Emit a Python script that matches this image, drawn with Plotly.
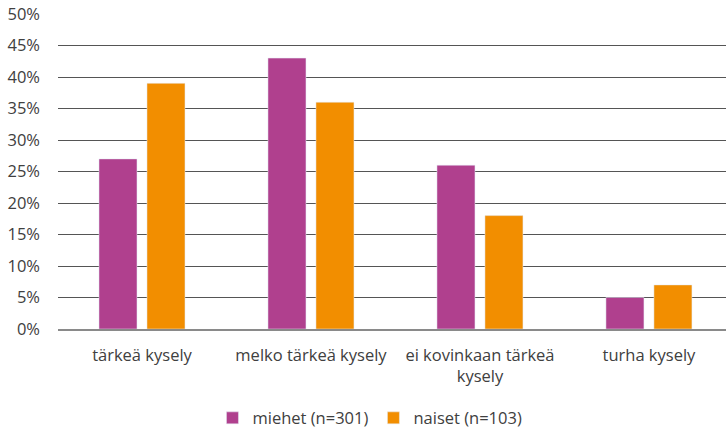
import plotly.graph_objects as go

categories = ["tärkeä kysely", "melko tärkeä kysely", "ei kovinkaan tärkeä<br>kysely", "turha kysely"]
miehet = [27, 43, 26, 5]
naiset = [39, 36, 18, 7]
y_ticks = [0, 5, 10, 15, 20, 25, 30, 35, 40, 45, 50]
y_labels = [f"{v}%" for v in y_ticks]

FONT = "'Open Sans', sans-serif"

fig = go.Figure()
fig.add_trace(go.Bar(x=categories, y=miehet, name="miehet (n=301)", marker_color="#B0408E"))
fig.add_trace(go.Bar(x=categories, y=naiset, name="naiset (n=103)", marker_color="#F28E00"))

fig.update_layout(
    width=726, height=432,
    margin=dict(l=58, r=0, t=14, b=103, autoexpand=False),
    paper_bgcolor="white", plot_bgcolor="white",
    barmode="group", bargap=0.432, bargroupgap=0.208,
    font=dict(family=FONT, size=16.5, color="#404040"),
    legend=dict(orientation="h", x=0.467, xanchor="center", y=-0.283, yanchor="middle",
                font=dict(size=16.5), itemwidth=30, traceorder="normal"),
)
fig.update_yaxes(range=[0, 50], tickvals=y_ticks, ticktext=y_labels,
                 showgrid=True, gridcolor="#555555", gridwidth=1, automargin=False,
                 zeroline=False, showline=False, ticklabelstandoff=17)
fig.update_xaxes(range=[-0.497, 3.456], showline=True, linecolor="#8a8a8a", linewidth=1.5,
                 automargin=False, showgrid=False, ticklabelstandoff=10)

fig.write_html("out.html", config={"displayModeBar": False},
               post_script="document.body.style.margin='0';document.body.style.overflow='hidden';")
